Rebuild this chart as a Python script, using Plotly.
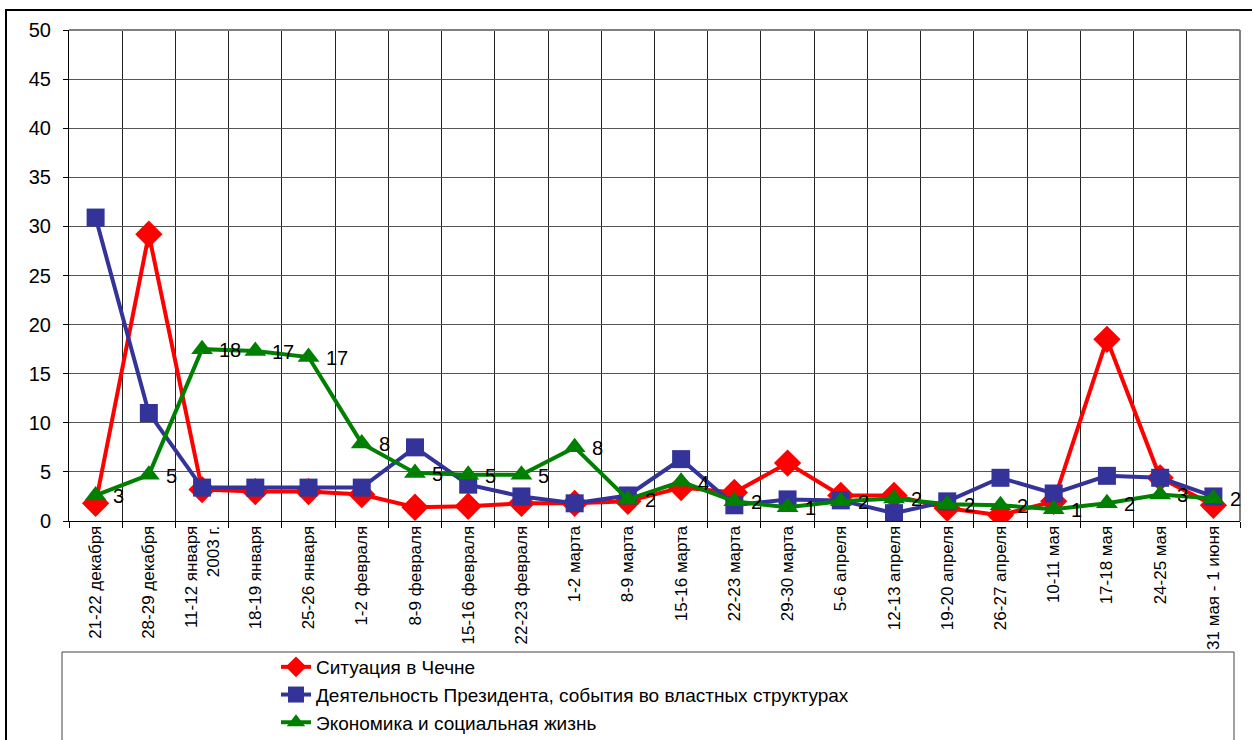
import plotly.graph_objects as go

categories = [
    "21-22 декабря", "28-29 декабря", "11-12 января<br>2003 г.", "18-19 января",
    "25-26 января", "1-2 февраля", "8-9 февраля", "15-16 февраля",
    "22-23 февраля", "1-2 марта", "8-9 марта", "15-16 марта", "22-23 марта",
    "29-30 марта", "5-6 апреля", "12-13 апреля", "19-20 апреля",
    "26-27 апреля", "10-11 мая", "17-18 мая", "24-25 мая", "31 мая - 1 июня",
]

chechnya = [1.8, 29.2, 3.2, 3.0, 3.0, 2.7, 1.4, 1.5, 1.8, 1.8, 2.0, 3.4, 2.9,
            5.9, 2.6, 2.6, 1.3, 0.6, 2.0, 18.5, 4.4, 1.6]
president = [30.9, 11.0, 3.4, 3.4, 3.4, 3.4, 7.5, 3.7, 2.5, 1.8, 2.6, 6.3, 1.6,
             2.2, 2.1, 0.8, 2.0, 4.4, 2.8, 4.6, 4.4, 2.5]
economy = [2.6, 4.7, 17.5, 17.3, 16.7, 7.9, 4.9, 4.7, 4.7, 7.5, 2.2, 4.0, 2.0,
           1.4, 2.0, 2.3, 1.7, 1.6, 1.2, 1.8, 2.7, 2.3]
economy_labels = ["3", "5", "18", "17", "17", "8", "5", "5", "5", "8", "2", "4",
                  "2", "1", "2", "2", "2", "2", "1", "2", "3", "2"]

series_names = [
    "Ситуация в Чечне",
    "Деятельность Президента, события во властных структурах",
    "Экономика и социальная жизнь",
]

FONT = "Liberation Sans, Arial, sans-serif"

fig = go.Figure()
fig.add_trace(go.Scatter(
    x=categories, y=chechnya, name=series_names[0], mode="lines+markers",
    line=dict(color="#FF0000", width=4),
    marker=dict(symbol="diamond", size=21, color="#FF0000"),
))
fig.add_trace(go.Scatter(
    x=categories, y=president, name=series_names[1], mode="lines+markers",
    line=dict(color="#333399", width=4),
    marker=dict(symbol="square", size=18, color="#333399"),
))
fig.add_trace(go.Scatter(
    x=categories, y=economy, name=series_names[2], mode="lines+markers",
    line=dict(color="#008000", width=4),
    marker=dict(symbol="triangle-up", size=19, color="#008000"),
))

for c, v, t in zip(categories, economy, economy_labels):
    fig.add_annotation(x=c, y=v, text=t, showarrow=False, xanchor="left",
                       xshift=15, yshift=-1,
                       font=dict(family=FONT, size=20, color="black"))

W, H = 1252, 740
L, R, T, B = 69, 12, 30, 219
pw, ph = W - L - R, H - T - B


def px(x):
    return (x - L) / pw


def py(y):
    return (H - B - y) / ph


shapes = [
    # outer chart frame
    dict(type="rect", xref="paper", yref="paper", x0=px(6), x1=px(1262),
         y0=py(760), y1=py(10), line=dict(color="black", width=2),
         fillcolor="rgba(0,0,0,0)", layer="below"),
    # legend box
    dict(type="rect", xref="paper", yref="paper", x0=px(62), x1=px(1234),
         y0=py(760), y1=py(652), line=dict(color="#444444", width=1),
         fillcolor="rgba(0,0,0,0)"),
    # plot area border top and right
    dict(type="line", xref="paper", yref="paper", x0=0, x1=1, y0=1, y1=1,
         line=dict(color="#808080", width=2)),
    dict(type="line", xref="paper", yref="paper", x0=1, x1=1, y0=0, y1=1,
         line=dict(color="#808080", width=2)),
]

fig.update_layout(
    width=W, height=H,
    margin=dict(l=L, r=R, t=T, b=B, autoexpand=False),
    paper_bgcolor="white", plot_bgcolor="white",
    font=dict(family=FONT, color="black"),
    showlegend=True,
    legend=dict(x=px(276), y=py(648), xanchor="left", yanchor="top",
                bgcolor="rgba(0,0,0,0)", font=dict(family=FONT, size=19),
                tracegroupgap=0, itemwidth=30),
    shapes=shapes,
)

fig.update_xaxes(
    type="category", tickson="boundaries", tickangle=-90,
    range=[-0.5, len(categories) - 0.5], autorange=False,
    showgrid=True, gridcolor="#222222", gridwidth=1,
    showline=True, linecolor="black", linewidth=1,
    ticks="outside", ticklen=6, tickcolor="black", ticklabelstandoff=-3,
    tickfont=dict(family=FONT, size=17),
)
fig.update_yaxes(
    range=[0, 50], dtick=5, tick0=0,
    showgrid=True, gridcolor="#555555", gridwidth=1,
    showline=True, linecolor="black", linewidth=1,
    ticks="outside", ticklen=5, tickcolor="black", ticklabelstandoff=8,
    tickfont=dict(family=FONT, size=20), zeroline=False,
)

fig.write_html("out.html", config={"displayModeBar": False},
               post_script="document.body.style.margin='0px';")
